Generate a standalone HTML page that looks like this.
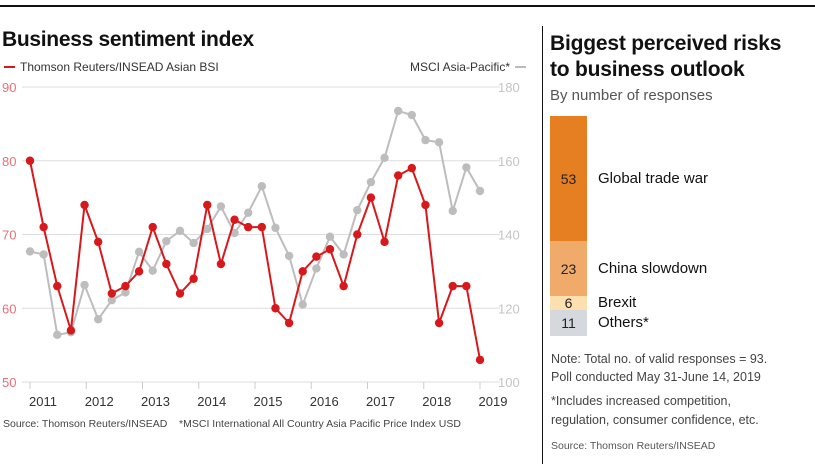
<!DOCTYPE html>
<html><head><meta charset="utf-8"><style>
body{margin:0;width:815px;height:476px;background:#fff;font-family:"Liberation Sans",sans-serif;overflow:hidden;position:relative}
.abs{position:absolute}
</style></head><body>
<div class="abs" style="left:0;top:5px;width:815px;height:2px;background:#111"></div>
<div class="abs" style="left:2px;top:28px;font-size:21px;font-weight:bold;color:#111;letter-spacing:-0.3px">Business sentiment index</div>
<svg class="abs" style="left:0;top:0" width="540" height="476">
<g id="grid"></g><g id="series"></g>
<line x1="4" y1="67" x2="15" y2="67" stroke="#d7191c" stroke-width="2"/>
<text x="20" y="71" font-size="12" fill="#333">Thomson Reuters/INSEAD Asian BSI</text>
<text x="510" y="71" font-size="12" fill="#333" text-anchor="end">MSCI Asia-Pacific*</text>
<line x1="515" y1="67" x2="526" y2="67" stroke="#bbb" stroke-width="2"/>
<text x="3" y="427" font-size="10.5" fill="#444">Source: Thomson Reuters/INSEAD &#160;&#160;&#160;*MSCI International All Country Asia Pacific Price Index USD</text>
</svg>
<div class="abs" style="left:542px;top:26px;width:1px;height:438px;background:#111"></div>
<div class="abs" style="left:550px;top:31px;font-size:21px;font-weight:bold;line-height:26px;color:#111;letter-spacing:-0.2px">Biggest perceived risks<br>to business outlook</div>
<div class="abs" style="left:550px;top:87px;font-size:15px;color:#555">By number of responses</div>
<div id="bars"></div>
<div class="abs" style="left:551px;top:350px;font-size:12.5px;line-height:18px;color:#444">Note: Total no. of valid responses = 93.<br>Poll conducted May 31-June 14, 2019</div>
<div class="abs" style="left:551px;top:392px;font-size:12.5px;line-height:19px;color:#444">*Includes increased competition,<br>regulation, consumer confidence, etc.</div>
<div class="abs" style="left:551px;top:440px;font-size:10.5px;color:#555">Source: Thomson Reuters/INSEAD</div>
<script>
const bsi=[80,71,63,57,74,69,62,63,65,71,66,62,64,74,66,72,71,71,60,58,65,67,68,63,70,75,69,78,79,74,58,63,63,53];
const msci=[135.4,134.6,112.8,113.5,126.3,117,122.2,124.3,135.3,130.2,138.2,141,137.7,141.5,147.6,140.4,145.9,153.1,141.8,134.2,121,130.8,139.4,134.6,146.6,154.2,160.8,173.5,172.4,165.6,165,146.4,158.2,151.8];
const leftTicks=[50,60,70,80,90];
const rightTicks=[100,120,140,160,180];
const years=[2011,2012,2013,2014,2015,2016,2017,2018,2019];
const riskLabels=["Global trade war","China slowdown","Brexit","Others*"];
const riskValues=[53,23,6,11];
const NS="http://www.w3.org/2000/svg";
const yL=v=>382-(v-50)*7.375, yR=v=>382-(v-100)*3.6875;
const xI=i=>30+i*(450/(bsi.length-1)), xY=y=>30+(y-2011)*56.25;
function mk(t,a,p){const e=document.createElementNS(NS,t);for(const k in a)e.setAttribute(k,a[k]);p.appendChild(e);return e;}
const g=document.getElementById('grid'), s=document.getElementById('series');
leftTicks.forEach((v,i)=>{
 const l=mk('line',{x1:22,x2:500,y1:yL(v),y2:yL(v),stroke:'#ddd','stroke-width':1},g);
 
 
 const t=mk('text',{x:2,y:yL(v)+5,'font-size':13,fill:'#e8707a'},g);t.textContent=v;
 
 
 const r=rightTicks[i];
 const t2=mk('text',{x:498,y:yR(r)+5,'font-size':13,fill:'#c4c4c4'},g);t2.textContent=r;
 
 
});
years.forEach(y=>{
 const l=mk('line',{x1:xY(y),x2:xY(y),y1:382,y2:389,stroke:'#ccc'},g);
 
 
 const t=mk('text',{x:xY(y)+13,y:406,'font-size':13,fill:'#333','text-anchor':'middle'},g);t.textContent=y;
 
 
});
function series(data,yf,col,name){
 const pl=mk('polyline',{points:data.map((v,i)=>xI(i)+','+yf(v)).join(' '),fill:'none',stroke:col,'stroke-width':2},s);
 
 
 data.forEach((v,i)=>{const c=mk('circle',{cx:xI(i),cy:yf(v),r:4.2,fill:col},s);
 
 });
}
series(msci,yR,'#bdbdbd','msci');
series(bsi,yL,'#d7191c','bsi');
const colors=['#e67e22','#f0ab6b','#fde0b0','#d5d8dc'];
const tot=riskValues.reduce((a,b)=>a+b,0), H=220;
let curY=116;const bw=document.getElementById('bars');
riskValues.forEach((v,i)=>{
 const h=v/tot*H;
 const d=document.createElement('div');d.className='abs';
 d.style.cssText=`left:550px;top:${curY}px;width:37px;height:${h}px;background:${colors[i]};`;
 
 
 bw.appendChild(d);
 const n=document.createElement('div');n.className='abs';
 n.style.cssText=`left:550px;width:37px;text-align:center;top:${curY+h/2-9}px;font-size:14px;color:#222;line-height:18px`;
 n.textContent=v;
 
 
 bw.appendChild(n);
 const lb=document.createElement('div');lb.className='abs';
 lb.style.cssText=`left:598px;top:${curY+h/2-10}px;font-size:15px;color:#111;line-height:20px;white-space:nowrap`;
 lb.textContent=riskLabels[i];
 
 
 bw.appendChild(lb);
 curY+=h;
});
</script>
</body></html>
